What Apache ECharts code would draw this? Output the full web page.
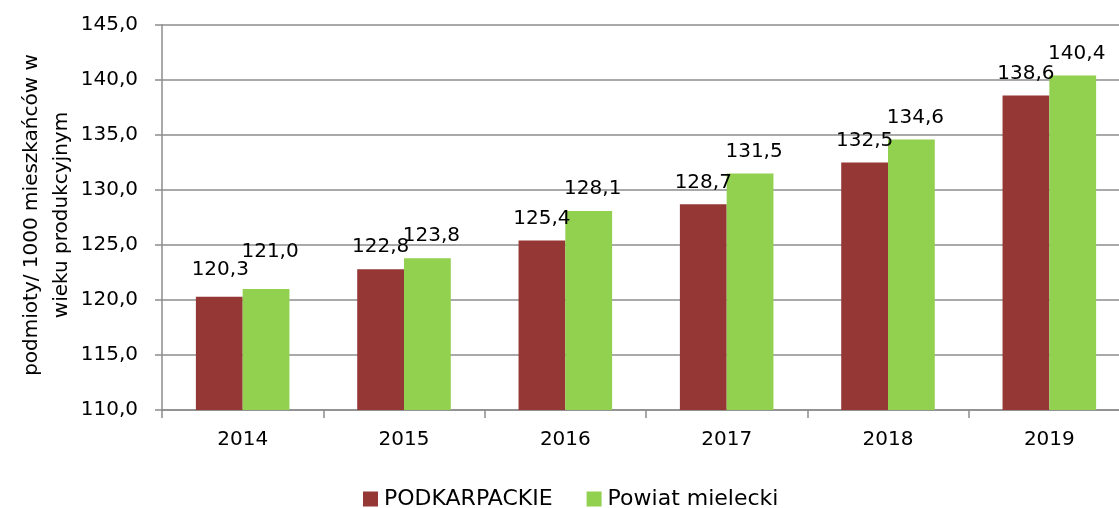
<!DOCTYPE html>
<html><head><meta charset="utf-8">
<script src="https://cdn.jsdelivr.net/npm/echarts@6/dist/echarts.min.js"></script>
<style>html,body{margin:0;padding:0;background:#fff}#c{width:1119px;height:508px}</style>
</head><body><div id="c"></div>
<script>
const categories = ['2014','2015','2016','2017','2018','2019'];
const podkarpackie = [120.3, 122.8, 125.4, 128.7, 132.5, 138.6];
const mielecki = [121.0, 123.8, 128.1, 131.5, 134.6, 140.4];
const seriesNames = ['PODKARPACKIE', 'Powiat mielecki'];
const yTitle = 'podmioty/ 1000 mieszkańców w\nwieku produkcyjnym';

// label nudges (presentation only)
const redLabelNudge = [[1, -5], [0, 0], [0, 0], [0, 0], [0, 0], [0, 0]];
const greenLabelNudge = [[4, -15], [4, 0], [4, 0], [4, 0], [4, 0], [4, 0]];

const FONT = 'DejaVu Sans, sans-serif';
const fmt = v => v.toFixed(1).replace('.', ',');
const chart = echarts.init(document.getElementById('c'));
const lbl = {show: true, position: 'top', distance: 12, color: '#000', fontSize: 20, fontFamily: FONT, formatter: p => fmt(p.value)};
chart.setOption({
  animation: false,
  textStyle: {fontFamily: FONT},
  grid: {left: 162, top: 25, width: 968, height: 385, outerBoundsMode: 'none', containLabel: false},
  legend: {
    top: 483, left: 358, itemWidth: 15, itemHeight: 15, itemGap: 34,
    icon: 'rect',
    textStyle: {fontSize: 22, color: '#000', fontFamily: FONT, padding: [0, 0, 0, 1]},
    data: seriesNames
  },
  graphic: [{
    type: 'text', x: 47, y: 215, rotation: Math.PI / 2,
    style: {text: yTitle, fontSize: 20, fontFamily: FONT, fill: '#000', align: 'center', verticalAlign: 'middle', lineHeight: 30}
  }],
  xAxis: {
    type: 'category', data: categories,
    axisLine: {lineStyle: {color: '#8c8c8c', width: 1.5}},
    axisTick: {show: true, length: 8, lineStyle: {color: '#8c8c8c', width: 1.5}},
    axisLabel: {fontSize: 20, color: '#000', margin: 20, fontFamily: FONT}
  },
  yAxis: {
    type: 'value', min: 110, max: 145, interval: 5,
    axisLine: {show: true, lineStyle: {color: '#8c8c8c', width: 1.5}},
    axisTick: {show: true, length: 7, lineStyle: {color: '#8c8c8c', width: 1.5}},
    splitLine: {lineStyle: {color: '#8c8c8c', width: 1.5}},
    axisLabel: {fontSize: 20, color: '#000', margin: 24, fontFamily: FONT, formatter: v => fmt(v)}
  },
  series: [
    {name: seriesNames[0], type: 'bar', barGap: '0%', barCategoryGap: '42%',
     data: podkarpackie.map((v, i) => ({value: v, label: {offset: redLabelNudge[i]}})),
     itemStyle: {color: '#953735'}, label: lbl},
    {name: seriesNames[1], type: 'bar',
     data: mielecki.map((v, i) => ({value: v, label: {offset: greenLabelNudge[i]}})),
     itemStyle: {color: '#92D050'}, label: lbl}
  ]
});
</script></body></html>
